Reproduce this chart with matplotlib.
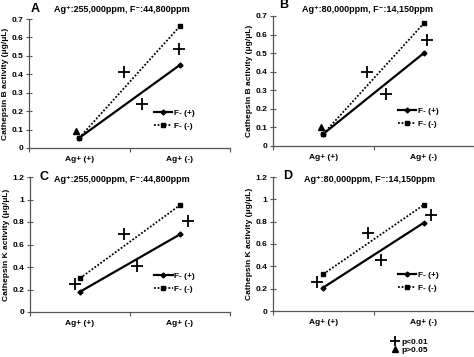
import matplotlib
matplotlib.use("Agg")
import matplotlib.pyplot as plt
from matplotlib.lines import Line2D

plt.rcParams['font.family'] = ['Liberation Sans', 'DejaVu Sans']
plt.rcParams['font.weight'] = 'bold'

categories = ["Ag+ (+)", "Ag+ (-)"]
series_names = ["F- (+)", "F- (-)"]

# panel A
A_fplus = [0.055, 0.45]
A_fminus = [0.055, 0.66]
A_cross_x = [0.945, 1.12, 1.49]
A_cross_y = [0.41, 0.24, 0.535]
A_tri_x = [0.47]
A_tri_y = [0.09]
# panel B
B_fplus = [0.065, 0.50]
B_fminus = [0.065, 0.66]
B_cross_x = [0.935, 1.12, 1.53]
B_cross_y = [0.40, 0.28, 0.57]
B_tri_x = [0.48]
B_tri_y = [0.105]
# panel C
C_fplus = [0.18, 0.69]
C_fminus = [0.30, 0.95]
C_cross_x = [0.45, 0.94, 1.07, 1.58]
C_cross_y = [0.25, 0.69, 0.41, 0.81]
# panel D
D_fplus = [0.21, 0.79]
D_fminus = [0.33, 0.95]
D_cross_x = [0.44, 0.945, 1.07, 1.57]
D_cross_y = [0.26, 0.70, 0.46, 0.86]

titles = ["Ag\u207a:255,000ppm, F\u207b:44,800ppm", "Ag\u207a:80,000ppm, F\u207b:14,150ppm",
          "Ag\u207a:255,000ppm, F\u207b:44,800ppm", "Ag\u207a:80,000ppm, F\u207b:14,150ppm"]
letters = ["A", "B", "C", "D"]
ylabels = ["Cathepsin B activity (\u03bcg/\u03bcL)", "Cathepsin B activity (\u03bcg/\u03bcL)",
           "Cathepsin K activity (\u03bcg/\u03bcL)", "Cathepsin K activity (\u03bcg/\u03bcL)"]
yticksB = [0, 0.1, 0.2, 0.3, 0.4, 0.5, 0.6, 0.7]
yticksK = [0, 0.2, 0.4, 0.6, 0.8, 1, 1.2]

W, H = 474, 357
fig = plt.figure(figsize=(W / 100, H / 100), dpi=100)

def px_axes(left, right, top, bottom):
    return fig.add_axes([left / W, (H - bottom) / H, (right - left) / W, (bottom - top) / H])

panels = [
    dict(box=(29, 230, 19, 148), fp=A_fplus, fm=A_fminus, cx=A_cross_x, cy=A_cross_y, tx=A_tri_x, ty=A_tri_y,
         ymax=0.7, yt=yticksB, letter_xy=(31, 9), title_xy=(122, 9)),
    dict(box=(273, 474, 16, 146), fp=B_fplus, fm=B_fminus, cx=B_cross_x, cy=B_cross_y, tx=B_tri_x, ty=B_tri_y,
         ymax=0.7, yt=yticksB, letter_xy=(279, 5), title_xy=(367, 9)),
    dict(box=(30, 230, 177, 312), fp=C_fplus, fm=C_fminus, cx=C_cross_x, cy=C_cross_y, tx=[], ty=[],
         ymax=1.2, yt=yticksK, letter_xy=(40, 177), title_xy=(122, 179)),
    dict(box=(273, 474, 177, 311), fp=D_fplus, fm=D_fminus, cx=D_cross_x, cy=D_cross_y, tx=[], ty=[],
         ymax=1.2, yt=yticksK, letter_xy=(283, 176), title_xy=(370, 179)),
]

xcat = [0.5, 1.5]
for i, p in enumerate(panels):
    ax = px_axes(*p['box'])
    ax.plot(xcat, p['fp'], color='black', lw=1.6, marker='D', ms=2.5, label=series_names[0])
    ax.plot(xcat, p['fm'], color='black', lw=1.3, ls=(0, (1, 1)), marker='s', ms=3, label=series_names[1])
    ax.plot(p['cx'], p['cy'], ls='none', marker='+', ms=8.5, mew=1.3, color='black')
    if p['tx']:
        ax.plot(p['tx'], p['ty'], ls='none', marker='^', ms=4.5, color='black')
    ax.set_xlim(0, 2)
    ax.set_ylim(0, p['ymax'])
    ax.set_yticks(p['yt'])
    ax.set_yticklabels([("%g" % v) for v in p['yt']], fontsize=6, fontweight='bold')
    ax.set_xticks([0, 1, 2])
    ax.set_xticklabels([])
    ax.set_xticks(xcat, minor=True)
    ax.set_xticklabels(categories, minor=True, fontsize=6, fontweight='bold')
    ax.tick_params(axis='x', which='minor', length=0, pad=6)
    ax.tick_params(axis='both', which='major', direction='out', length=3, width=0.8, color='#555555', pad=2)
    ax.tick_params(axis='y', which='major', direction='inout', length=4)
    for s in ['top', 'right']:
        ax.spines[s].set_visible(False)
    for s in ['left', 'bottom']:
        ax.spines[s].set_color('#555555')
        ax.spines[s].set_linewidth(0.9)
    ax.set_ylabel(ylabels[i], fontsize=6, fontweight='bold', labelpad=2)
    ax.legend(loc='center left', bbox_to_anchor=(0.6, 0.22), frameon=False, fontsize=6,
              handlelength=2.2, handletextpad=0.2, labelspacing=0.6, borderpad=0)
    lx, ly = p['letter_xy']
    fig.text(lx / W, 1 - ly / H, letters[i], fontsize=9, fontweight='bold', ha='left', va='center')
    tx, ty = p['title_xy']
    fig.text(tx / W, 1 - ty / H, titles[i], fontsize=6.5, fontweight='bold', ha='center', va='center')

# significance legend
h1 = Line2D([], [], ls='none', marker='+', ms=7, mew=1.3, color='black')
h2 = Line2D([], [], ls='none', marker='^', ms=4, color='black')
fig.legend([h1, h2], ["p<0.01", "p>0.05"], loc='center left', bbox_to_anchor=(387 / W, 1 - 346 / H),
           frameon=False, fontsize=6, handlelength=1.0, handletextpad=0.2, labelspacing=0.1, borderpad=0)

fig.savefig("out.png", dpi=100)
